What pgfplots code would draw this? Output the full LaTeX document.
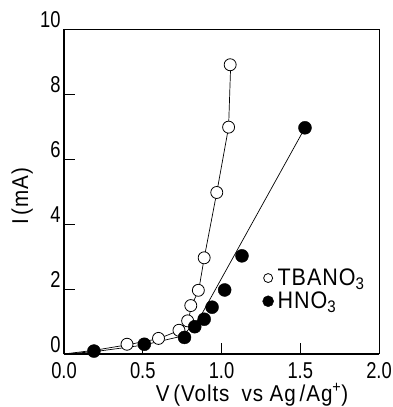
\documentclass[border=0pt]{standalone}
\usepackage{pgfplots}
\pgfplotsset{compat=1.18}
\usepackage{fontspec}
\setmainfont{Liberation Sans}[FakeStretch=0.8]
\newfontfamily\labelfont{Liberation Sans}[FakeStretch=0.9, LetterSpace=4]
\begin{document}
\begin{tikzpicture}[font=\fontsize{23}{26}\selectfont]
\begin{axis}[
  scale only axis, width=315bp, height=325bp,
  xmin=0, xmax=2, ymin=0, ymax=10,
  clip=false,
  axis lines=left, axis line style={-, line width=1.6bp},
  xtick={0,0.5,1,1.5,2}, ytick={0,2,4,6,8,10},
  tick align=inside, major tick length=11bp,
  tick style={line width=0.8bp, black},
  /pgf/number format/assume math mode=true,
  xticklabel style={/pgf/number format/.cd, fixed, fixed zerofill, precision=1, /tikz/.cd, yshift=-5bp},
  yticklabel style={anchor=south east, yshift=-2bp, xshift=0bp},
  xlabel={V\,(Volts\hspace{12bp}vs Ag\,/Ag\textsuperscript{+})},
  ylabel={I\,(mA)},
  xlabel style={at={(rel axis cs:0.597,-0.126)}, anchor=center, font=\labelfont\fontsize{23}{26}\selectfont},
  ylabel style={at={(rel axis cs:-0.133,0.485)}, anchor=center, font=\labelfont\fontsize{23}{26}\selectfont},
  legend style={at={(axis cs:1.26,1.98)}, anchor=west, draw=none, fill=none,
    inner sep=0pt, row sep=3bp, column sep=3bp, nodes={inner sep=1bp},
    font=\labelfont\fontsize{24}{26}\selectfont},
  legend cell align=left,
]
\addplot[black, line width=0.7bp, forget plot] coordinates {
(0,0) (0.2,0.12) (0.4,0.28) (0.6,0.47) (0.73,0.72) (0.79,1.05) (0.81,1.5) (0.855,1.95) (0.89,2.95) (0.97,4.97) (1.045,6.98) (1.058,8.85)};
\addplot[black, line width=0.7bp, forget plot] coordinates {
(0,0) (0.19,0.07) (0.5,0.27) (0.75,0.55) (0.86,1.1) (1.53,6.96)};
\addplot[only marks, mark=*, mark size=6bp, mark options={draw=black, fill=white, line width=0.8bp},
  legend image code/.code={\draw[mark=*, mark size=4.5bp, mark options={draw=black, fill=white, line width=0.8bp}] plot coordinates {(0bp,0bp)};}]
coordinates {
(0.40,0.30) (0.60,0.48) (0.73,0.73) (0.785,1.02) (0.805,1.49) (0.853,1.96) (0.89,2.96) (0.97,4.97) (1.045,6.98) (1.055,8.9)};
\addlegendentry{TBANO\textsubscript{3}}
\addplot[only marks, mark=*, mark size=6.5bp, mark options={draw=black, fill=black},
  legend image code/.code={\draw[mark=*, mark size=5.5bp, mark options={draw=black, fill=black}] plot coordinates {(0bp,0bp)};}]
coordinates {
(0.19,0.09) (0.51,0.30) (0.765,0.51) (0.83,0.84) (0.89,1.07) (0.94,1.44) (1.02,1.97) (1.13,3.02) (1.53,6.96)};
\addlegendentry{HNO\textsubscript{3}}
\draw[line width=0.9bp] (rel axis cs:0,1) -- (rel axis cs:1,1) -- (rel axis cs:1,0);
\coordinate (O) at (rel axis cs:0,0);
\end{axis}
\pgfresetboundingbox
\path ([shift={(-64bp,-53bp)}]O) rectangle ([shift={(329bp,354bp)}]O);
\end{tikzpicture}
\end{document}
